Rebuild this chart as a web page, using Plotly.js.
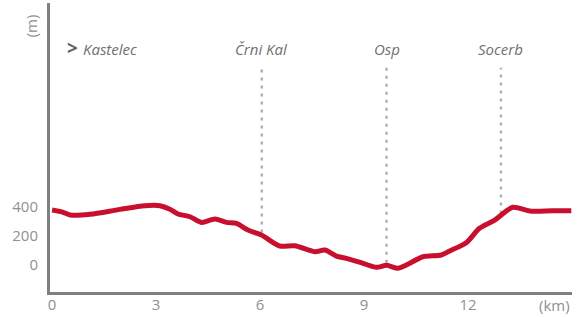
<!DOCTYPE html>
<html>
<head>
<meta charset="utf-8">
<script src="https://cdn.plot.ly/plotly-3.0.1.min.js"></script>
<style>html,body{margin:0;padding:0;background:#fff;}#chart{width:580px;height:317px;}</style>
</head>
<body>
<div id="chart"></div>
<script>
const distanceKm = [0, 0.3, 0.52, 1.1, 1.96, 2.68, 3.11, 3.4, 3.63, 3.98, 4.31, 4.7, 5.03, 5.32, 5.65, 6.04, 6.57, 7.0, 7.58, 7.87, 8.2, 8.49, 8.97, 9.36, 9.65, 9.98, 10.22, 10.7, 11.23, 11.47, 11.95, 12.33, 12.77, 13.29, 13.78, 14.44, 14.98];
const elevationM = [379, 365, 345, 350, 384, 409, 409, 385, 352, 333, 294, 317, 294, 287, 241, 207, 131, 133, 92, 103, 62, 46, 12, -16, -2, -23, 0, 57, 69, 97, 154, 253, 310, 398, 372, 374, 374];
const placeNames = ['Črni Kal', 'Osp', 'Socerb'];
const placeKm = [6.05, 9.65, 12.95];
const placeElev = [225, 15, 355];
const startName = 'Kastelec';
const xTicks = [0, 3, 6, 9, 12];
const yTicks = [0, 200, 400];

const labelTop = 1360, labelY = 1490;
const grey = '#808080';
const traces = [];
placeKm.forEach((k, i) => {
  traces.push({x: [k, k], y: [placeElev[i], labelTop], mode: 'lines',
    line: {color: '#b0b0b0', width: 2.5, dash: '3px,5px'}, hoverinfo: 'skip', showlegend: false});
});
traces.push({x: distanceKm, y: elevationM, mode: 'lines',
  line: {color: '#c8102e', width: 5, shape: 'spline', smoothing: 0.8}, showlegend: false});

const annotations = placeNames.map((n, i) => ({x: placeKm[i], y: labelY, xref: 'x', yref: 'y', text: n,
  showarrow: false, font: {family: 'Open Sans', size: 15, color: '#707070', style: 'italic'}, xanchor: 'center', yanchor: 'middle'}));
annotations.push({x: 0.36, y: labelY + 4, xref: 'x', yref: 'y', text: '<b>&gt;</b>', showarrow: false,
  xanchor: 'left', yanchor: 'middle', font: {family: 'Open Sans', size: 19, color: '#606060'}});
annotations.push({x: 0.82, y: labelY, xref: 'x', yref: 'y', text: startName, showarrow: false,
  xanchor: 'left', yanchor: 'middle', font: {family: 'Open Sans', size: 15, color: '#707070', style: 'italic'}});
annotations.push({x: -0.036, y: 0.92, xref: 'x domain', yref: 'y domain', xanchor: 'center', yanchor: 'middle',
  text: '(m)', textangle: -90, showarrow: false,
  font: {family: 'Open Sans', size: 15, color: '#909090'}});
annotations.push({x: 1.0, y: -0.045, xref: 'x domain', yref: 'y domain', yanchor: 'middle', xanchor: 'right', text: '(km)', showarrow: false,
  font: {family: 'Open Sans', size: 15, color: '#909090'}});

Plotly.newPlot('chart', traces, {
  width: 580, height: 317,
  margin: {l: 50, r: 8, t: 3, b: 25},
  paper_bgcolor: '#fff', plot_bgcolor: '#fff',
  font: {family: 'Open Sans', color: '#909090', size: 15},
  xaxis: {range: [-0.06, 15.0], tickvals: xTicks, showgrid: false, zeroline: false,
    showline: true, linecolor: grey, linewidth: 3, ticks: '', ticklabelstandoff: -3},
  yaxis: {range: [-186, 1807], tickvals: yTicks, showgrid: false, zeroline: false,
    showline: true, linecolor: grey, linewidth: 3, ticks: '', ticklabelstandoff: 6},
  annotations: annotations
}, {displayModeBar: false, staticPlot: true});
</script>
</body>
</html>
